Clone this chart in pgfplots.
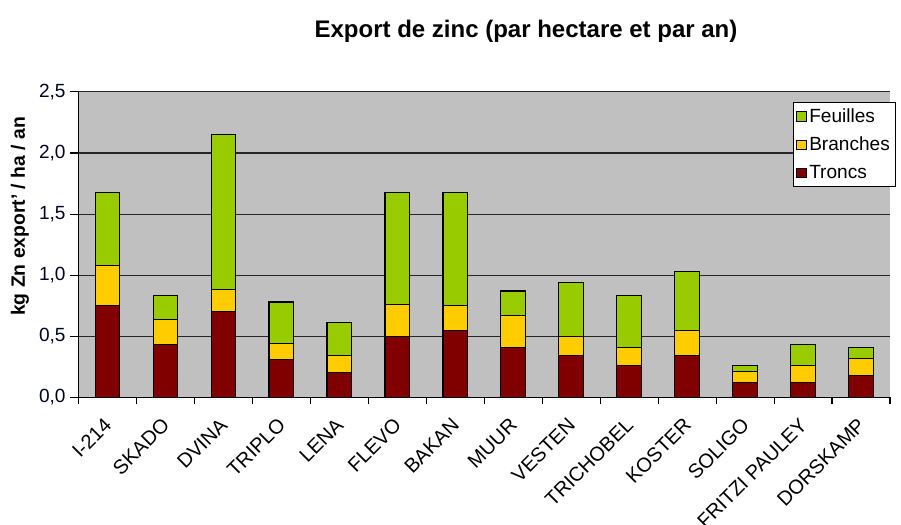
\documentclass[border=0pt]{standalone}
\usepackage{fontspec}
\setmainfont{Liberation Sans}
\usepackage{pgfplots}
\usepackage{pgfplotstable}
\pgfplotsset{compat=1.18}
\definecolor{feu}{HTML}{99CC00}
\definecolor{bra}{HTML}{FFCC00}
\definecolor{tro}{HTML}{800000}
\definecolor{bgc}{HTML}{C0C0C0}
\pgfplotstableread{
x tr br fe
0 0.75 0.33 0.60
1 0.43 0.21 0.19
2 0.70 0.18 1.27
3 0.31 0.13 0.34
4 0.20 0.14 0.27
5 0.50 0.26 0.92
6 0.55 0.20 0.93
7 0.41 0.26 0.20
8 0.34 0.16 0.44
9 0.26 0.15 0.42
10 0.34 0.21 0.48
11 0.12 0.09 0.05
12 0.12 0.14 0.17
13 0.18 0.14 0.09
}\zn
\begin{document}
\begin{tikzpicture}
\path[use as bounding box] (0,0) rectangle (675.75pt,393.75pt);
\begin{axis}[
  at={(58.7pt,95.8pt)}, anchor=south west,
  width=608.8pt, height=229pt, scale only axis,
  ybar stacked, bar width=0.42,
  xmin=-0.5, xmax=13.5, ymin=0, ymax=2.5,
  ytick={0,0.5,1,1.5,2,2.5},
  xtick={0,...,13},
  xticklabels={I-214,SKADO,DVINA,TRIPLO,LENA,FLEVO,BAKAN,MUUR,VESTEN,TRICHOBEL,KOSTER,SOLIGO,FRITZI PAULEY,DORSKAMP},
  minor xtick={-0.5,0.5,...,13.5},
  major x tick style={draw=none},
  minor x tick style={black, line width=0.8pt},
  y tick style={black, line width=0.8pt},
  tick align=outside,
  major tick length=6pt, minor tick length=5pt,
  axis x line*=bottom, axis y line*=left,
  axis line style={black, line width=0.9pt, -},
  axis background/.style={fill=bgc},
  ymajorgrids, major grid style={black!85, line width=0.8pt},
  /pgf/number format/.cd, use comma, fixed, fixed zerofill, precision=1, assume math mode=true,
  /pgfplots/.cd,
  yticklabel style={font=\fontsize{14.3}{16}\selectfont, color=black!85!blue},
  xticklabel style={font=\fontsize{15}{17}\selectfont, rotate=45, anchor=east, xshift=-5pt, yshift=-9pt},
  title={Export de zinc (par hectare et par an)},
  title style={font=\bfseries\fontsize{18}{21}\selectfont, at={(0.5516,1.174)}, anchor=center},
  ylabel={kg Zn export' / ha / an},
  ylabel style={font=\bfseries\fontsize{14.5}{16}\selectfont, at={(-0.0718,0.592)}, anchor=center},
  legend style={at={(0.880,0.967)}, anchor=north west, draw=black, fill=white,
    font=\fontsize{14.3}{16}\selectfont, row sep=5.5pt, inner sep=2.5pt, line width=0.8pt},
  legend cell align=left,
  reverse legend,
  legend image code/.code={\draw[#1, draw=black, line width=0.6pt] (0pt,-3.5pt) rectangle (7pt,3.5pt);},
  every axis plot/.append style={draw=black, line width=0.8pt},
]
\addplot[fill=tro] table[x=x,y=tr]{\zn};
\addplot[fill=bra] table[x=x,y=br]{\zn};
\addplot[fill=feu] table[x=x,y=fe]{\zn};
\legend{Troncs,Branches,Feuilles}
\end{axis}
\end{tikzpicture}
\end{document}
